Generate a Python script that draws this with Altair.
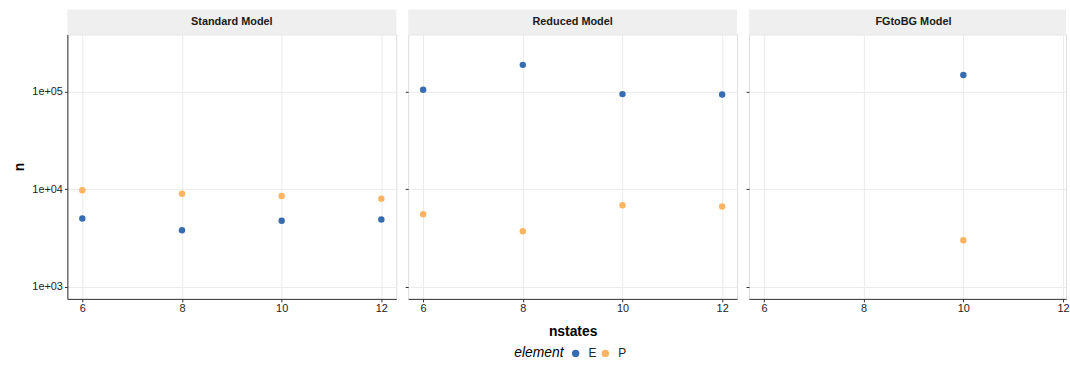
import altair as alt
import pandas as pd

FONT = "Liberation Sans"

models = ["Standard Model", "Reduced Model", "FGtoBG Model"]
elements = ["E", "P"]
colors = ["#386CB0", "#FDB462"]

# Standard Model
std_nstates = [6, 8, 10, 12]
std_E = [5040, 3810, 4770, 4920]
std_P = [9800, 9040, 8550, 8040]
# Reduced Model
red_nstates = [6, 8, 10, 12]
red_E = [105000, 189000, 94800, 94000]
red_P = [5570, 3720, 6880, 6670]
# FGtoBG Model
fg_nstates = [10]
fg_E = [149000]
fg_P = [3010]

x_ticks = [6, 8, 10, 12]
y_ticks = [1000, 10000, 100000]

rows = []
for model, ns, e_vals, p_vals in [
    (models[0], std_nstates, std_E, std_P),
    (models[1], red_nstates, red_E, red_P),
    (models[2], fg_nstates, fg_E, fg_P),
]:
    for s, v in zip(ns, e_vals):
        rows.append({"model": model, "nstates": s, "element": "E", "n": v})
    for s, v in zip(ns, p_vals):
        rows.append({"model": model, "nstates": s, "element": "P", "n": v})
df = pd.DataFrame(rows)

H = 267
SH = 25
# the last panel is cut by the page edge in the original, so it is narrower
widths = [332, 332, 320]
x_domains = [[5.7, 12.3], [5.7, 12.3], [5.7, 12.06]]


def panel(i, model):
    W = widths[i]
    d = df[df["model"] == model]
    lab = pd.DataFrame({"t": [model]})
    strip_bg = alt.Chart(lab).mark_rect(color="#EFEFEF").encode(
        x=alt.value(0), x2=alt.value(W), y=alt.value(-SH), y2=alt.value(0)
    )
    strip_tx = alt.Chart(lab).mark_text(
        font=FONT, fontSize=11, fontWeight="bold", color="#1A1A1A"
    ).encode(text="t:N", x=alt.value(166), y=alt.value(-SH / 2 + 0.5))

    if i == 0:
        yaxis = alt.Axis(
            values=y_ticks,
            labelExpr="datum.value == 1000 ? '1e+03' : datum.value == 10000 ? '1e+04' : '1e+05'",
            title="n", titleFont=FONT, titleFontSize=14, titleFontWeight="bold",
            titleColor="#000000", titlePadding=5,
            labelFont=FONT, labelFontSize=11, labelColor="#222222", labelPadding=2,
            tickSize=3, tickColor="#333333", domain=True, domainColor="#333333",
            grid=True, gridColor="#EBEBEB",
        )
    else:
        yaxis = alt.Axis(
            values=y_ticks, labels=False, title=None, tickSize=3, tickColor="#333333",
            domain=False, grid=True, gridColor="#EBEBEB",
        )
    xaxis = alt.Axis(
        values=x_ticks, title="nstates" if i == 1 else None,
        titleFont=FONT, titleFontSize=14, titleFontWeight="bold", titleColor="#000000",
        titlePadding=11,
        labelFont=FONT, labelFontSize=11, labelColor="#222222", labelPadding=1,
        labelFlush=False,
        tickSize=3, tickColor="#333333", domainColor="#333333",
        grid=True, gridColor="#EBEBEB",
    )
    pts = alt.Chart(d).mark_circle(size=42, opacity=1).encode(
        x=alt.X("nstates:Q", scale=alt.Scale(domain=x_domains[i], nice=False, zero=False), axis=xaxis),
        y=alt.Y("n:Q", scale=alt.Scale(type="log", domain=[755, 388000], nice=False), axis=yaxis),
        color=alt.Color(
            "element:N",
            scale=alt.Scale(domain=elements, range=colors),
            legend=alt.Legend(
                orient="none", legendX=451, legendY=316,
                direction="horizontal", titleOrient="left",
                title="element", titleFont=FONT, titleFontSize=14, titleFontStyle="italic",
                titleFontWeight="normal", titleColor="#000000", titlePadding=6,
                labelFont=FONT, labelFontSize=12, labelColor="#222222", labelOffset=7,
                symbolType="circle", symbolSize=55, columnPadding=2,
            ),
        ),
    )
    return alt.layer(strip_bg, strip_tx, pts).properties(width=W, height=H)


chart = alt.hconcat(*[panel(i, m) for i, m in enumerate(models)], spacing=7).properties(
    padding={"left": 12, "top": 7, "right": 0, "bottom": 0}
).configure_view(stroke=None).configure(background="white")

chart.save("out.html", embed_options={"renderer": "svg", "actions": False})
